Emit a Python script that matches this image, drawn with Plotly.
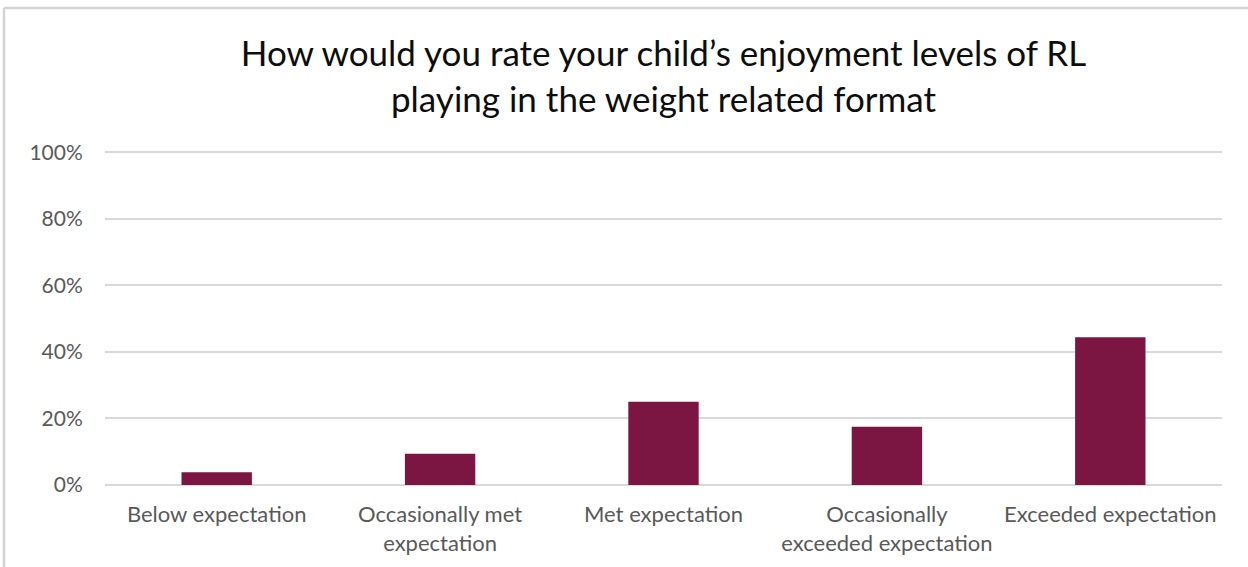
import plotly.graph_objects as go

categories = [
    "Below expectation",
    "Occasionally met<br>expectation",
    "Met expectation",
    "Occasionally<br>exceeded expectation",
    "Exceeded expectation",
]
shares = [3.8, 9.4, 25.0, 17.5, 44.4]  # percent of respondents
y_ticks = [0, 20, 40, 60, 80, 100]
y_tick_labels = [f"{v}%" for v in y_ticks]

W, H = 1248, 567
ML, MR, MT, MB = 105, 26, 151, 82

fig = go.Figure(
    go.Bar(
        x=categories,
        y=shares,
        marker=dict(color="#7B1642", line=dict(width=0)),
        hoverinfo="x+y",
    )
)

font_family = "Lato, 'Liberation Sans', Arial, sans-serif"

fig.update_layout(
    width=W,
    height=H,
    margin=dict(l=ML, r=MR, t=MT, b=MB, pad=0, autoexpand=False),
    paper_bgcolor="white",
    plot_bgcolor="white",
    bargap=0.685,
    showlegend=False,
    font=dict(family=font_family, color="#595959", size=21),
    title=dict(
        text="How would you rate your child’s enjoyment levels of RL<br>playing in the weight related format",
        x=0.5,
        xanchor="center",
        xref="paper",
        y=1 - 66 / H,
        yanchor="top",
        font=dict(family=font_family, size=35, color="#0d0d0d"),
    ),
    xaxis=dict(
        showgrid=False,
        showline=False,
        zeroline=False,
        automargin=False,
        ticks="outside",
        ticklen=10,
        tickcolor="rgba(0,0,0,0)",
        tickfont=dict(size=22, color="#595959"),
        fixedrange=True,
    ),
    yaxis=dict(
        range=[0, 100.4],
        tickvals=y_ticks,
        ticktext=y_tick_labels,
        showgrid=True,
        gridcolor="#d9d9d9",
        gridwidth=1.5,
        zeroline=True,
        zerolinecolor="#d9d9d9",
        zerolinewidth=1.5,
        showline=False,
        automargin=False,
        ticks="outside",
        ticklen=17,
        tickcolor="rgba(0,0,0,0)",
        tickfont=dict(size=21, color="#595959"),
        fixedrange=True,
    ),
)

# Light frame around the chart area: only its top and left edges fall in view
PW, PH = W - ML - MR, H - MT - MB
frame_top = 1 + (MT - 8) / PH
frame_left = (4 - ML) / PW
fig.add_shape(
    type="line", xref="paper", yref="paper",
    x0=frame_left, x1=(W + 10 - ML) / PW,
    y0=frame_top, y1=frame_top,
    line=dict(color="#d4d4d4", width=2.5),
    layer="above",
)
fig.add_shape(
    type="line", xref="paper", yref="paper",
    x0=frame_left, x1=frame_left,
    y0=frame_top, y1=-(MB + 10) / PH,
    line=dict(color="#d4d4d4", width=2.5),
    layer="above",
)

fig.write_html("out.html")
